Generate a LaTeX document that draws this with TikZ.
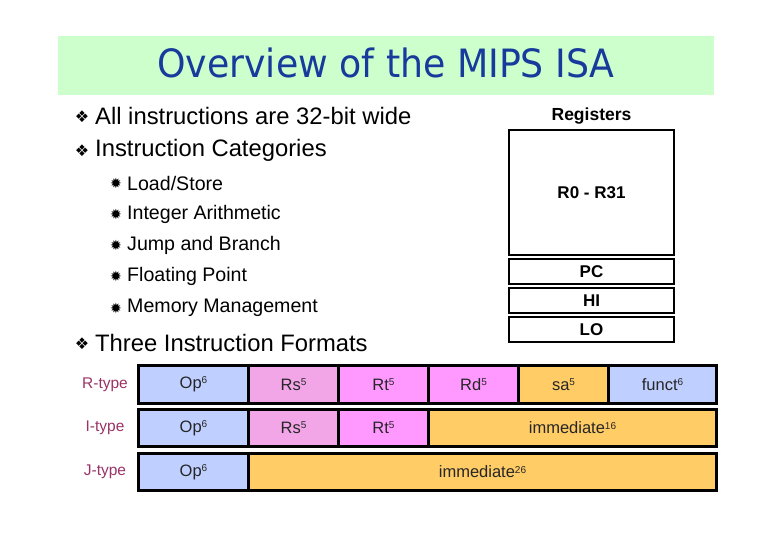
\documentclass[tikz,border=0pt]{standalone}
\usepackage{fontspec}
\setmainfont{Liberation Sans}
\newfontfamily\djv{DejaVu Sans}
\definecolor{titlebg}{HTML}{CCFFCC}
\definecolor{titleblue}{HTML}{173A9C}
\definecolor{opblue}{HTML}{BFCFFF}
\definecolor{rspink}{HTML}{F2A6E8}
\definecolor{rtpink}{HTML}{FF99FF}
\definecolor{immorange}{HTML}{FFCC66}
\definecolor{lblred}{HTML}{993366}
\newcommand{\myfs}[1]{\fontsize{#1}{#1}\selectfont}
\newcommand{\upn}[1]{\raisebox{0.55ex}{\myfs{10}#1}}
\tikzset{
  mainitem/.style={anchor=west, inner sep=0, font=\myfs{23.8}},
  subitem/.style={anchor=west, inner sep=0, font=\myfs{19.6}},
  mainbul/.style={inner sep=0, font=\djv\myfs{16}},
  subbul/.style={inner sep=0, font=\djv\myfs{14}},
  regbox/.style={draw=black, line width=2.5pt, minimum width=165, inner sep=0, font=\bfseries\myfs{17}},
  cell/.style={draw=black, line width=3pt, minimum height=37, inner sep=0, anchor=west, font=\myfs{16.5}, text=black!85},
  rowlbl/.style={inner sep=0, font=\myfs{15.5}, text=lblred}
}
\begin{document}
\begin{tikzpicture}[x=1pt,y=-1pt]
\useasboundingbox (0,0) rectangle (780,540);
% title
\fill[titlebg] (58,36) rectangle (714,95);
\node[inner sep=0, text=titleblue, font=\djv\myfs{39}, xscale=0.93] (title) at (386,63) {Overview of the MIPS ISA};
% bullets
\node[mainbul] (b1) at (82,116.5) {❖};
\node[mainitem] (t1) at (95,116) {All instructions are 32-bit wide};
\node[mainbul] (b2) at (82,150.5) {❖};
\node[mainitem] (t2) at (95,150) {Instruction Categories};
\node[subbul] (s1) at (116,183) {✹};
\node[subitem] (u1) at (127,183) {Load/Store};
\node[subbul] (s2) at (116,214) {✹};
\node[subitem] (u2) at (127,214) {Integer Arithmetic};
\node[subbul] (s3) at (116,245) {✹};
\node[subitem] (u3) at (127,245) {Jump and Branch};
\node[subbul] (s4) at (116,276) {✹};
\node[subitem] (u4) at (127,276) {Floating Point};
\node[subbul] (s5) at (116,308) {✹};
\node[subitem] (u5) at (127,308) {Memory Management};
\node[mainbul] (b3) at (82,343.5) {❖};
\node[mainitem] (t3) at (95,343) {Three Instruction Formats};
% registers
\node[inner sep=0, font=\bfseries\myfs{17.5}] (reglbl) at (591.5,116) {Registers};
\node[regbox, minimum height=125] (rr) at (591.5,192.5) {R0 - R31};
\node[regbox, minimum height=25] (pc) at (591.5,271.5) {PC};
\node[regbox, minimum height=25] (hi) at (591.5,300.5) {HI};
\node[regbox, minimum height=25] (lo) at (591.5,329.5) {LO};
% R-type
\node[rowlbl] (lr) at (105,384.5) {R-type};
\node[cell, fill=opblue, minimum width=110] (rop) at (137,384.5) {Op\upn{6}};
\node[cell, fill=rspink, minimum width=90] (rrs) at (247,384.5) {Rs\upn{5}};
\node[cell, fill=rtpink, minimum width=90] (rrt) at (337,384.5) {Rt\upn{5}};
\node[cell, fill=rtpink, minimum width=90] (rrd) at (427,384.5) {Rd\upn{5}};
\node[cell, fill=immorange, minimum width=90] (rsa) at (517,384.5) {sa\upn{5}};
\node[cell, fill=opblue, minimum width=108] (rfn) at (607,384.5) {funct\upn{6}};
% I-type
\node[rowlbl] (li) at (105,428) {I-type};
\node[cell, fill=opblue, minimum width=110] (iop) at (137,428) {Op\upn{6}};
\node[cell, fill=rspink, minimum width=90] (irs) at (247,428) {Rs\upn{5}};
\node[cell, fill=rtpink, minimum width=90] (irt) at (337,428) {Rt\upn{5}};
\node[cell, fill=immorange, minimum width=288] (iim) at (427,428) {immediate\upn{16}};
% J-type
\node[rowlbl] (lj) at (105,472) {J-type};
\node[cell, fill=opblue, minimum width=110] (jop) at (137,472) {Op\upn{6}};
\node[cell, fill=immorange, minimum width=468] (jim) at (247,472) {immediate\upn{26}};
\end{tikzpicture}
\end{document}
